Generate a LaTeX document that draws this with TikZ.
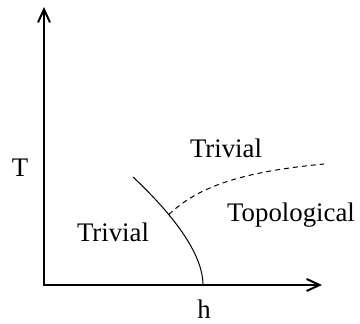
\documentclass[tikz,border=0pt]{standalone}
\usepackage{fontspec}
\setmainfont{Liberation Serif}
\usetikzlibrary{arrows.meta}
\tikzset{
  axisarr/.style={line width=1pt, -{Straight Barb[length=6.5pt,width=6pt,line width=1pt]}},
  phaseline/.style={line width=0.5pt},
  crossover/.style={line width=0.5pt, dash pattern=on 2.5pt off 2pt},
  region/.style={font=\fontsize{13.4}{15}\selectfont, anchor=base, inner sep=0pt}
}

\begin{document}
\begin{tikzpicture}[x=0.5pt,y=-0.5pt]
  \useasboundingbox (0,0) rectangle (360,324);
  \coordinate (origin) at (44,285);
  \coordinate (Ttop) at (44,7);
  \coordinate (hend) at (322,285);
  \coordinate (crit) at (133,177);
  \coordinate (hc) at (203,285);
  \coordinate (xover) at (324,164);
  % axes
  \draw[axisarr] ([yshift=-0.5pt]origin) -- (Ttop);
  \draw[axisarr] ([xshift=-0.5pt]origin) -- (hend);
  % phase boundary and crossover
  \draw[phaseline] (crit) .. controls (165,207) and (203,250) .. (hc) coordinate[pos=0.37] (meet);
  \draw[crossover] (meet) .. controls (198,187) and (240,172) .. (xover);
  % labels
  \node[region] (Tlabel) at (20,177) {T};
  \node[region] (hlabel) at (204,319) {h};
  \node[region] (trivhigh) at (226,158) {Trivial};
  \node[region] (topo) at (291,222) {Topological};
  \node[region] (trivlow) at (113,242) {Trivial};
\end{tikzpicture}
\end{document}
